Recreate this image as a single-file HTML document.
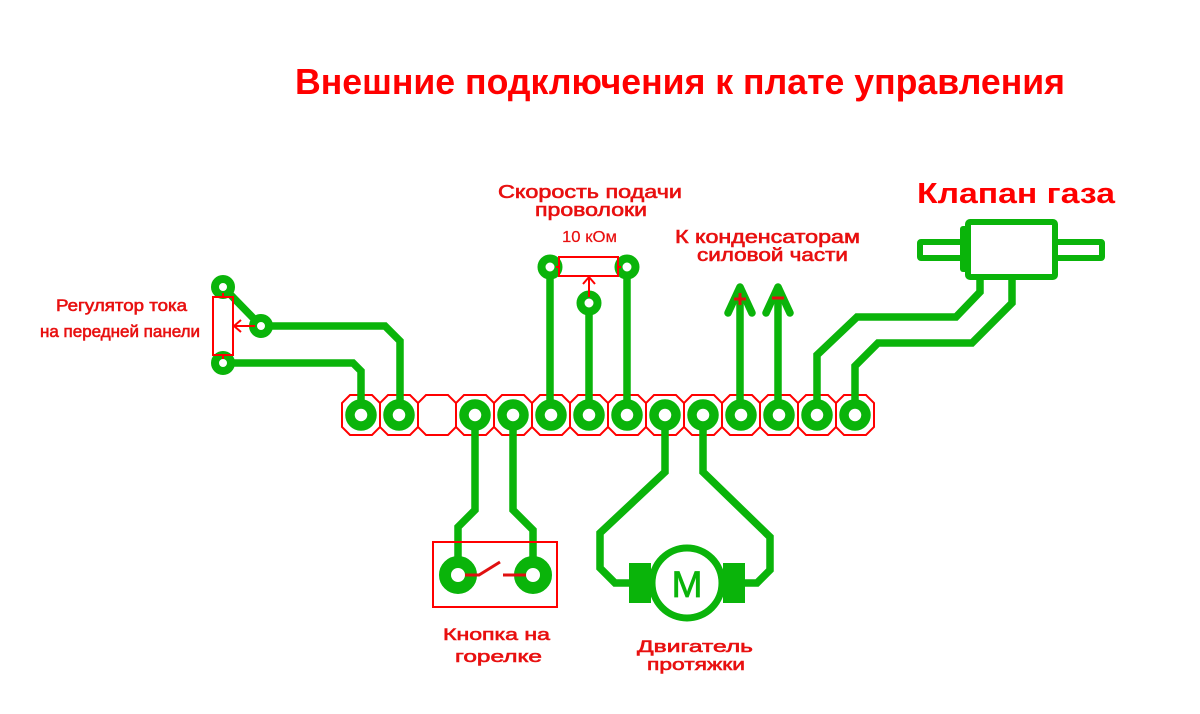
<!DOCTYPE html>
<html>
<head>
<meta charset="utf-8">
<style>
html,body{margin:0;padding:0;background:#fff;}
svg{display:block;}
text{font-family:"Liberation Sans","DejaVu Sans",sans-serif;}
</style>
</head>
<body>
<svg width="1200" height="714" viewBox="0 0 1200 714" xmlns="http://www.w3.org/2000/svg">
<rect width="1200" height="714" fill="#fff"/>

<!-- Title -->
<text x="295" y="94" font-size="36" font-weight="bold" fill="#f00" textLength="770" lengthAdjust="spacingAndGlyphs">Внешние подключения к плате управления</text>

<!-- Labels -->
<g fill="#e81010" stroke="#e81010" stroke-width="0.6">
<text x="56" y="311" font-size="17" textLength="131" lengthAdjust="spacingAndGlyphs">Регулятор тока</text>
<text x="40" y="337" font-size="17" textLength="160" lengthAdjust="spacingAndGlyphs">на передней панели</text>
<text x="498" y="198" font-size="18" textLength="184" lengthAdjust="spacingAndGlyphs">Скорость подачи</text>
<text x="535" y="216" font-size="18" textLength="112" lengthAdjust="spacingAndGlyphs">проволоки</text>
<text x="562" y="242" font-size="16" textLength="55" lengthAdjust="spacingAndGlyphs" stroke-width="0.2">10 кОм</text>
<text x="675" y="243" font-size="18" textLength="185" lengthAdjust="spacingAndGlyphs">К конденсаторам</text>
<text x="697" y="261" font-size="18" textLength="151" lengthAdjust="spacingAndGlyphs">силовой части</text>
<text x="443" y="640" font-size="17" textLength="107" lengthAdjust="spacingAndGlyphs">Кнопка на</text>
<text x="455" y="662" font-size="17" textLength="87" lengthAdjust="spacingAndGlyphs">горелке</text>
<text x="637" y="652" font-size="17" textLength="116" lengthAdjust="spacingAndGlyphs">Двигатель</text>
<text x="647" y="670" font-size="17" textLength="98" lengthAdjust="spacingAndGlyphs">протяжки</text>
</g>
<text x="917" y="203" font-size="29" font-weight="bold" fill="#f00" textLength="198" lengthAdjust="spacingAndGlyphs">Клапан газа</text>

<!-- Pad row octagons -->
<g fill="#fff" stroke="#f00" stroke-width="2">
<polygon points="350,395 372,395 380,403 380,427 372,435 350,435 342,427 342,403"/>
<polygon points="388,395 410,395 418,403 418,427 410,435 388,435 380,427 380,403"/>
<polygon points="426,395 448,395 456,403 456,427 448,435 426,435 418,427 418,403"/>
<polygon points="464,395 486,395 494,403 494,427 486,435 464,435 456,427 456,403"/>
<polygon points="502,395 524,395 532,403 532,427 524,435 502,435 494,427 494,403"/>
<polygon points="540,395 562,395 570,403 570,427 562,435 540,435 532,427 532,403"/>
<polygon points="578,395 600,395 608,403 608,427 600,435 578,435 570,427 570,403"/>
<polygon points="616,395 638,395 646,403 646,427 638,435 616,435 608,427 608,403"/>
<polygon points="654,395 676,395 684,403 684,427 676,435 654,435 646,427 646,403"/>
<polygon points="692,395 714,395 722,403 722,427 714,435 692,435 684,427 684,403"/>
<polygon points="730,395 752,395 760,403 760,427 752,435 730,435 722,427 722,403"/>
<polygon points="768,395 790,395 798,403 798,427 790,435 768,435 760,427 760,403"/>
<polygon points="806,395 828,395 836,403 836,427 828,435 806,435 798,427 798,403"/>
<polygon points="844,395 866,395 874,403 874,427 866,435 844,435 836,427 836,403"/>
</g>

<!-- Traces -->
<g fill="none" stroke="#0ab40a" stroke-width="7.5" stroke-linejoin="miter" stroke-linecap="butt">
<polyline points="223,287 261,326"/>
<polyline points="261,326 385,326 400,341 400,415"/>
<polyline points="223,363 353,363 361,371 361,415"/>
<polyline points="550,267 550,415"/>
<polyline points="627,267 627,415"/>
<polyline points="589,303 589,415"/>
<polyline points="740,415 740,287"/>
<polyline points="778,415 778,287"/>
<polyline points="980,276 980,292 956,317 857,317 817,355 817,415"/>
<polyline points="1012,276 1012,303 972,343 878,343 855,366 855,415"/>
<polyline points="475,415 475,510 458,527 458,575"/>
<polyline points="513,415 513,510 533,530 533,575"/>
<polyline points="665,415 665,472 600,533 600,568 615,583 632,583"/>
<polyline points="703,415 703,472 770,537 770,570 757,583 744,583"/>
</g>
<g fill="none" stroke="#0ab40a" stroke-width="7.5" stroke-linejoin="round" stroke-linecap="round">
<polyline points="728,313 740,287 752,313"/>
<polyline points="766,313 778,287 790,313"/>
</g>

<!-- Row pads -->
<g fill="#fff" stroke="#0ab40a" stroke-width="9.5">
<circle cx="361" cy="415" r="11"/>
<circle cx="399" cy="415" r="11"/>
<circle cx="475" cy="415" r="11"/>
<circle cx="513" cy="415" r="11"/>
<circle cx="551" cy="415" r="11"/>
<circle cx="589" cy="415" r="11"/>
<circle cx="627" cy="415" r="11"/>
<circle cx="665" cy="415" r="11"/>
<circle cx="703" cy="415" r="11"/>
<circle cx="741" cy="415" r="11"/>
<circle cx="779" cy="415" r="11"/>
<circle cx="817" cy="415" r="11"/>
<circle cx="855" cy="415" r="11"/>
</g>

<!-- pot pads -->
<g fill="#fff" stroke="#0ab40a" stroke-width="8">
<circle cx="223" cy="287" r="8"/>
<circle cx="261" cy="326" r="8"/>
<circle cx="223" cy="363" r="8"/>
<circle cx="550" cy="267" r="8.5"/>
<circle cx="627" cy="267" r="8.5"/>
<circle cx="589" cy="303" r="8.5"/>
</g>

<!-- button pads -->
<g fill="#fff" stroke="#0ab40a" stroke-width="12">
<circle cx="458" cy="575" r="13"/>
<circle cx="533" cy="575" r="13"/>
</g>

<!-- Valve -->
<g fill="#fff" stroke="#0ab40a" stroke-width="6" stroke-linejoin="round">
<rect x="920" y="242" width="46" height="16" rx="1"/>
<rect x="1055" y="242" width="47" height="16" rx="1"/>
<rect x="968" y="222" width="87" height="55" rx="2"/>
</g>
<rect x="960" y="226" width="9" height="46" rx="3" fill="#0ab40a"/>

<!-- Motor -->
<rect x="629" y="563" width="22" height="40" fill="#0ab40a"/>
<rect x="723" y="563" width="22" height="40" fill="#0ab40a"/>
<circle cx="687" cy="583" r="35" fill="#fff" stroke="#0ab40a" stroke-width="7"/>
<text x="687" y="597" font-size="37" fill="#0ab40a" stroke="#0ab40a" stroke-width="0.8" text-anchor="middle">M</text>

<!-- Red component outlines -->
<g fill="none" stroke="#f00" stroke-width="2">
<rect x="213" y="297" width="20" height="58"/>
<line x1="223" y1="293" x2="223" y2="297"/>
<line x1="223" y1="355" x2="223" y2="359"/>
<line x1="255" y1="326" x2="235" y2="326"/>
<polyline points="241,320 234,326 241,332"/>
<rect x="559" y="257" width="59" height="19"/>
<line x1="556" y1="267" x2="559" y2="267"/>
<line x1="618" y1="267" x2="621" y2="267"/>
<line x1="589" y1="297" x2="589" y2="278"/>
<polyline points="583,284 589,277 595,284"/>
<rect x="433" y="542" width="124" height="65"/>
</g>
<g fill="none" stroke="#e01010" stroke-width="3">
<polyline points="465,575 479,575 500,562"/>
<line x1="503" y1="575" x2="526" y2="575"/>
<line x1="734" y1="299" x2="746" y2="299"/>
<line x1="740" y1="293" x2="740" y2="305"/>
<line x1="772" y1="298" x2="784" y2="298"/>
</g>
</svg>
</body>
</html>
